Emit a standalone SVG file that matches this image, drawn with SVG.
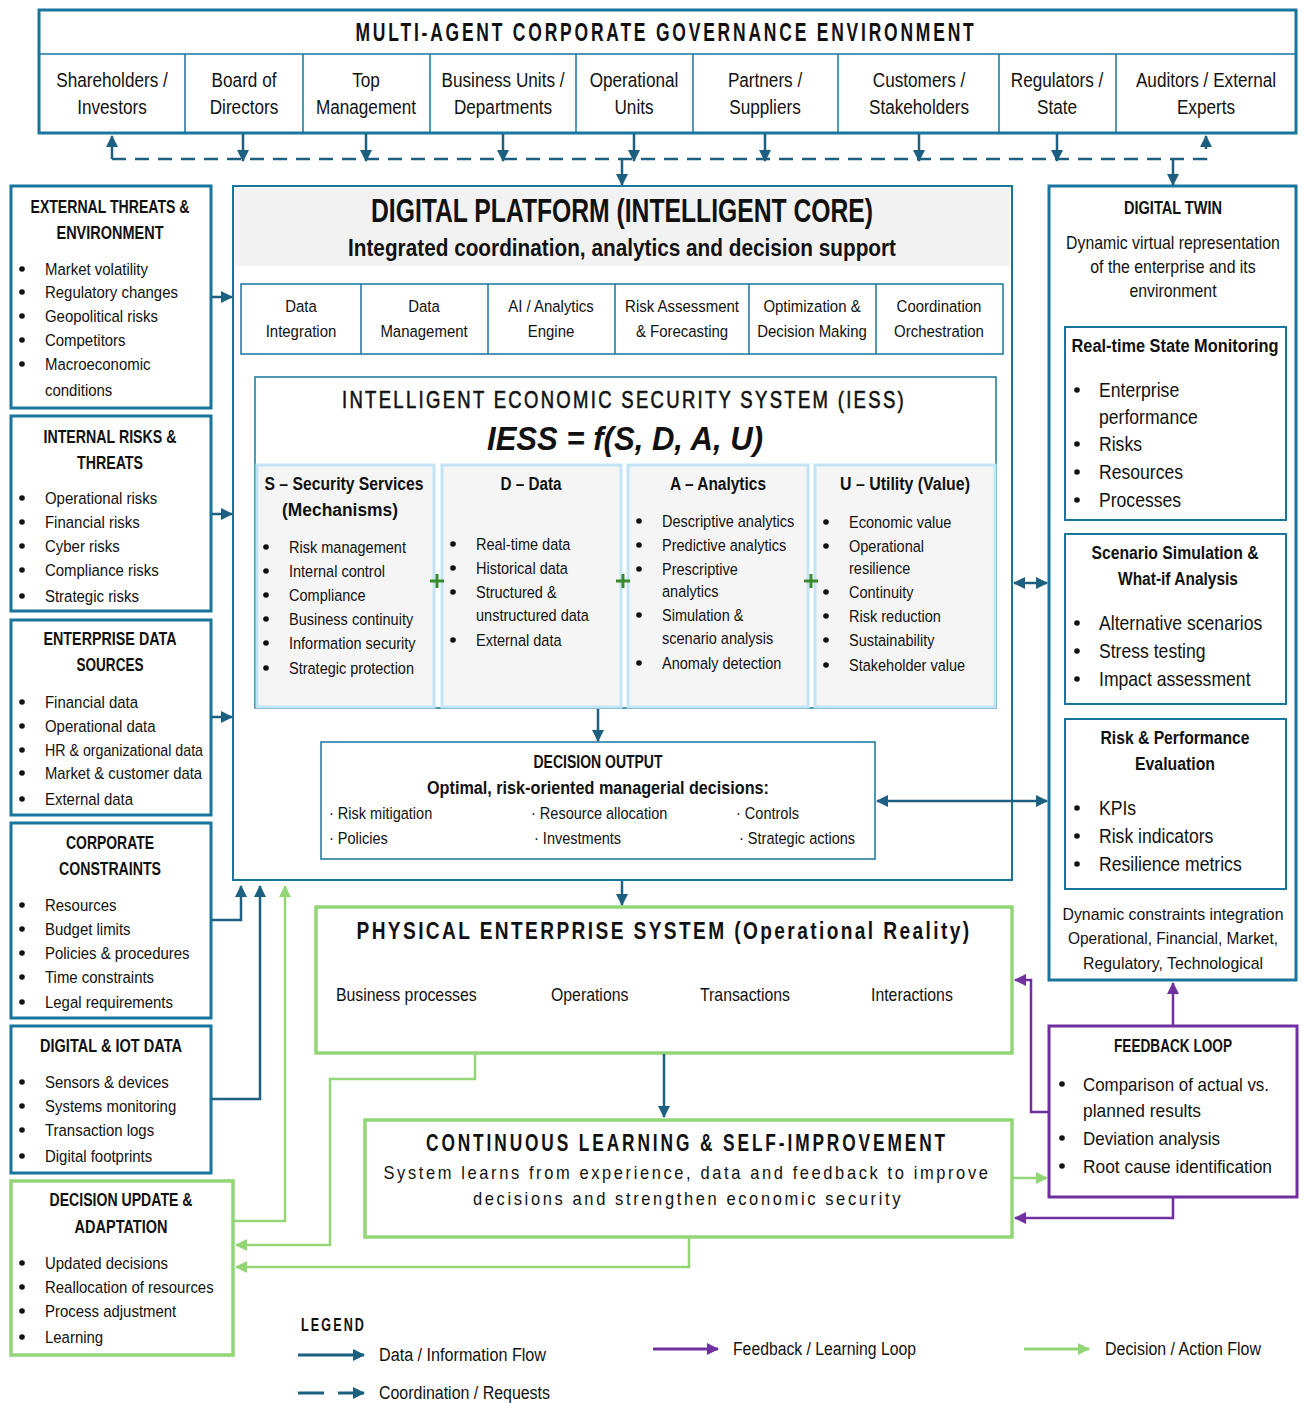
<svg xmlns="http://www.w3.org/2000/svg" width="1304" height="1403" viewBox="0 0 1304 1403">
<style>
text{font-family:"Liberation Sans",Arial,sans-serif;fill:#111;transform-box:fill-box;transform-origin:0 0;transform:scaleX(.88)}
text.c{text-anchor:middle;transform-origin:50% 0}
text.n{transform:none}
.b{font-weight:bold}
.t20{font-size:20px}
.t19{font-size:19.5px}
.t18{font-size:18px}
.t17{font-size:17px}
.t16{font-size:16.5px}
.hd{font-size:19px;font-weight:bold;text-anchor:middle}
.box{fill:#fff;stroke:#17759e;stroke-width:3}
.thin{fill:none;stroke:#17759e;stroke-width:1.5}
.gbox{fill:#fff;stroke:#93d676;stroke-width:3.5}
.pbox{fill:#fff;stroke:#7030a0;stroke-width:3}
.col{fill:#f5f5f5;stroke:#c2e5f6;stroke-width:3}
.fb{fill:none;stroke:#1c5f80;stroke-width:2.5}
.fd{fill:none;stroke:#1c5f80;stroke-width:2.5;stroke-dasharray:14 9}
.fg{fill:none;stroke:#93d676;stroke-width:2.5}
.fp{fill:none;stroke:#7030a0;stroke-width:2.5}
.dot{fill:#111}
.plus{fill:none;stroke:#3a8a2a;stroke-width:3}
</style>
<defs>
<marker id="ab" markerUnits="userSpaceOnUse" markerWidth="12" markerHeight="12" refX="11" refY="6" orient="auto-start-reverse"><path d="M0,0 L12,6 L0,12 z" fill="#1c5f80"/></marker>
<marker id="ag" markerUnits="userSpaceOnUse" markerWidth="12" markerHeight="12" refX="11" refY="6" orient="auto-start-reverse"><path d="M0,0 L12,6 L0,12 z" fill="#93d676"/></marker>
<marker id="ap" markerUnits="userSpaceOnUse" markerWidth="12" markerHeight="12" refX="11" refY="6" orient="auto-start-reverse"><path d="M0,0 L12,6 L0,12 z" fill="#7030a0"/></marker>
</defs>

<!-- Governance environment -->
<g id="governance">
<rect x="39" y="10" width="1257" height="123" class="box"/>
<line x1="39" y1="54" x2="1296" y2="54" class="thin"/>
<g class="thin">
<line x1="185" y1="54" x2="185" y2="133"/><line x1="303" y1="54" x2="303" y2="133"/><line x1="430" y1="54" x2="430" y2="133"/><line x1="576" y1="54" x2="576" y2="133"/><line x1="693" y1="54" x2="693" y2="133"/><line x1="838" y1="54" x2="838" y2="133"/><line x1="999" y1="54" x2="999" y2="133"/><line x1="1116" y1="54" x2="1116" y2="133"/>
</g>
<text x="666" y="41" class="c b n" style="font-size:25px;letter-spacing:4px" textLength="621" lengthAdjust="spacingAndGlyphs">MULTI-AGENT CORPORATE GOVERNANCE ENVIRONMENT</text>
<g>
<text x="112" y="87" class="c t19">Shareholders /</text><text x="112" y="114" class="c t19">Investors</text>
<text x="244" y="87" class="c t19">Board of</text><text x="244" y="114" class="c t19">Directors</text>
<text x="366" y="87" class="c t19">Top</text><text x="366" y="114" class="c t19">Management</text>
<text x="503" y="87" class="c t19">Business Units /</text><text x="503" y="114" class="c t19">Departments</text>
<text x="634" y="87" class="c t19">Operational</text><text x="634" y="114" class="c t19">Units</text>
<text x="765" y="87" class="c t19">Partners /</text><text x="765" y="114" class="c t19">Suppliers</text>
<text x="919" y="87" class="c t19">Customers /</text><text x="919" y="114" class="c t19">Stakeholders</text>
<text x="1057" y="87" class="c t19">Regulators /</text><text x="1057" y="114" class="c t19">State</text>
<text x="1206" y="87" class="c t19">Auditors / External</text><text x="1206" y="114" class="c t19">Experts</text>
</g>
</g>

<!-- Left column -->
<g id="external-threats">
<rect x="11" y="186" width="200" height="222" class="box"/>
<text x="110" y="213" class="hd n" textLength="159" lengthAdjust="spacingAndGlyphs">EXTERNAL THREATS &amp;</text>
<text x="110" y="239" class="hd n" textLength="107" lengthAdjust="spacingAndGlyphs">ENVIRONMENT</text>
<g class="t17"><text x="45" y="275">Market volatility</text><text x="45" y="298">Regulatory changes</text><text x="45" y="322">Geopolitical risks</text><text x="45" y="346">Competitors</text><text x="45" y="370">Macroeconomic</text><text x="45" y="396">conditions</text></g>
<g class="dot"><circle cx="22" cy="269" r="2.8"/><circle cx="22" cy="292" r="2.8"/><circle cx="22" cy="316" r="2.8"/><circle cx="22" cy="340" r="2.8"/><circle cx="22" cy="364" r="2.8"/></g>
</g>
<g id="internal-risks">
<rect x="11" y="416" width="200" height="195" class="box"/>
<text x="110" y="443" class="hd n" textLength="133" lengthAdjust="spacingAndGlyphs">INTERNAL RISKS &amp;</text>
<text x="110" y="469" class="hd n" textLength="66" lengthAdjust="spacingAndGlyphs">THREATS</text>
<g class="t17"><text x="45" y="504">Operational risks</text><text x="45" y="528">Financial risks</text><text x="45" y="552">Cyber risks</text><text x="45" y="576">Compliance risks</text><text x="45" y="602">Strategic risks</text></g>
<g class="dot"><circle cx="22" cy="498" r="2.8"/><circle cx="22" cy="522" r="2.8"/><circle cx="22" cy="546" r="2.8"/><circle cx="22" cy="570" r="2.8"/><circle cx="22" cy="596" r="2.8"/></g>
</g>
<g id="enterprise-data">
<rect x="11" y="620" width="200" height="195" class="box"/>
<text x="110" y="645" class="hd n" textLength="133" lengthAdjust="spacingAndGlyphs">ENTERPRISE DATA</text>
<text x="110" y="671" class="hd n" textLength="67" lengthAdjust="spacingAndGlyphs">SOURCES</text>
<g class="t17"><text x="45" y="708">Financial data</text><text x="45" y="732">Operational data</text><text x="45" y="756" class="n" textLength="158" lengthAdjust="spacingAndGlyphs">HR &amp; organizational data</text><text x="45" y="779" class="n" textLength="157" lengthAdjust="spacingAndGlyphs">Market &amp; customer data</text><text x="45" y="805">External data</text></g>
<g class="dot"><circle cx="22" cy="702" r="2.8"/><circle cx="22" cy="726" r="2.8"/><circle cx="22" cy="750" r="2.8"/><circle cx="22" cy="773" r="2.8"/><circle cx="22" cy="799" r="2.8"/></g>
</g>
<g id="corporate-constraints">
<rect x="11" y="823" width="200" height="195" class="box"/>
<text x="110" y="849" class="hd n" textLength="88" lengthAdjust="spacingAndGlyphs">CORPORATE</text>
<text x="110" y="875" class="hd n" textLength="102" lengthAdjust="spacingAndGlyphs">CONSTRAINTS</text>
<g class="t17"><text x="45" y="911">Resources</text><text x="45" y="935">Budget limits</text><text x="45" y="959">Policies &amp; procedures</text><text x="45" y="983">Time constraints</text><text x="45" y="1008">Legal requirements</text></g>
<g class="dot"><circle cx="22" cy="905" r="2.8"/><circle cx="22" cy="929" r="2.8"/><circle cx="22" cy="953" r="2.8"/><circle cx="22" cy="977" r="2.8"/><circle cx="22" cy="1002" r="2.8"/></g>
</g>
<g id="digital-iot">
<rect x="11" y="1026" width="200" height="147" class="box"/>
<text x="111" y="1052" class="hd n" textLength="142" lengthAdjust="spacingAndGlyphs">DIGITAL &amp; IOT DATA</text>
<g class="t17"><text x="45" y="1088">Sensors &amp; devices</text><text x="45" y="1112">Systems monitoring</text><text x="45" y="1136">Transaction logs</text><text x="45" y="1162">Digital footprints</text></g>
<g class="dot"><circle cx="22" cy="1082" r="2.8"/><circle cx="22" cy="1106" r="2.8"/><circle cx="22" cy="1130" r="2.8"/><circle cx="22" cy="1156" r="2.8"/></g>
</g>
<g id="decision-update">
<rect x="11" y="1181" width="222" height="174" class="gbox"/>
<text x="121" y="1206" class="hd n" textLength="143" lengthAdjust="spacingAndGlyphs">DECISION UPDATE &amp;</text>
<text x="121" y="1233" class="hd n" textLength="93" lengthAdjust="spacingAndGlyphs">ADAPTATION</text>
<g class="t17"><text x="45" y="1269">Updated decisions</text><text x="45" y="1293">Reallocation of resources</text><text x="45" y="1317">Process adjustment</text><text x="45" y="1343">Learning</text></g>
<g class="dot"><circle cx="22" cy="1263" r="2.8"/><circle cx="22" cy="1287" r="2.8"/><circle cx="22" cy="1311" r="2.8"/><circle cx="22" cy="1337" r="2.8"/></g>
</g>

<!-- Digital platform -->
<g id="digital-platform">
<rect x="233" y="186" width="779" height="694" fill="#fff" stroke="#17759e" stroke-width="2"/>
<rect x="235" y="188" width="775" height="78" fill="#f2f2f2"/>
<text x="622" y="222" class="c b n" style="font-size:34px" textLength="502" lengthAdjust="spacingAndGlyphs">DIGITAL PLATFORM (INTELLIGENT CORE)</text>
<text x="622" y="256" class="c b n" style="font-size:23px" textLength="548" lengthAdjust="spacingAndGlyphs">Integrated coordination, analytics and decision support</text>
<rect x="241" y="284" width="762" height="70" class="thin"/>
<g class="thin"><line x1="361" y1="284" x2="361" y2="354"/><line x1="488" y1="284" x2="488" y2="354"/><line x1="615" y1="284" x2="615" y2="354"/><line x1="749" y1="284" x2="749" y2="354"/><line x1="876" y1="284" x2="876" y2="354"/></g>
<g>
<text x="301" y="312" class="c t17">Data</text><text x="301" y="337" class="c t17">Integration</text>
<text x="424" y="312" class="c t17">Data</text><text x="424" y="337" class="c t17">Management</text>
<text x="551" y="312" class="c t17">AI / Analytics</text><text x="551" y="337" class="c t17">Engine</text>
<text x="682" y="312" class="c t17">Risk Assessment</text><text x="682" y="337" class="c t17">&amp; Forecasting</text>
<text x="812" y="312" class="c t17">Optimization &amp;</text><text x="812" y="337" class="c t17">Decision Making</text>
<text x="939" y="312" class="c t17">Coordination</text><text x="939" y="337" class="c t17">Orchestration</text>
</g>
</g>

<g id="iess">
<rect x="255" y="377" width="741" height="331" fill="#fff" stroke="#17759e" stroke-width="1.5"/>
<text x="624" y="408" class="c n" style="font-size:24px;letter-spacing:3px;stroke:#111;stroke-width:.6" textLength="564" lengthAdjust="spacingAndGlyphs">INTELLIGENT ECONOMIC SECURITY SYSTEM (IESS)</text>
<text x="625" y="450" class="c b n" style="font-size:33px;font-style:italic" textLength="276" lengthAdjust="spacingAndGlyphs">IESS = f(S, D, A, U)</text>
<rect x="257" y="465" width="177" height="242" class="col"/>
<rect x="442" y="465" width="179" height="242" class="col"/>
<rect x="628" y="465" width="180" height="242" class="col"/>
<rect x="815" y="465" width="180" height="242" class="col"/>
<g class="b" style="font-size:18px">
<text x="344" y="490" class="c n" textLength="159" lengthAdjust="spacingAndGlyphs">S – Security Services</text>
<text x="340" y="516" class="c n" textLength="116" lengthAdjust="spacingAndGlyphs">(Mechanisms)</text>
<text x="531" y="490" class="c n" textLength="61" lengthAdjust="spacingAndGlyphs">D – Data</text>
<text x="718" y="490" class="c n" textLength="96" lengthAdjust="spacingAndGlyphs">A – Analytics</text>
<text x="905" y="490" class="c n" textLength="130" lengthAdjust="spacingAndGlyphs">U – Utility (Value)</text>
</g>
<g class="t16">
<text x="289" y="553">Risk management</text><text x="289" y="577">Internal control</text><text x="289" y="601">Compliance</text><text x="289" y="625">Business continuity</text><text x="289" y="649">Information security</text><text x="289" y="674">Strategic protection</text>
<text x="476" y="550">Real-time data</text><text x="476" y="574">Historical data</text><text x="476" y="598">Structured &amp;</text><text x="476" y="621">unstructured data</text><text x="476" y="646">External data</text>
<text x="662" y="527">Descriptive analytics</text><text x="662" y="551">Predictive analytics</text><text x="662" y="575">Prescriptive</text><text x="662" y="597">analytics</text><text x="662" y="621">Simulation &amp;</text><text x="662" y="644">scenario analysis</text><text x="662" y="669">Anomaly detection</text>
<text x="849" y="528">Economic value</text><text x="849" y="552">Operational</text><text x="849" y="574">resilience</text><text x="849" y="598">Continuity</text><text x="849" y="622">Risk reduction</text><text x="849" y="646">Sustainability</text><text x="849" y="671">Stakeholder value</text>
</g>
<g class="dot">
<circle cx="266" cy="547" r="2.8"/><circle cx="266" cy="571" r="2.8"/><circle cx="266" cy="595" r="2.8"/><circle cx="266" cy="619" r="2.8"/><circle cx="266" cy="643" r="2.8"/><circle cx="266" cy="668" r="2.8"/>
<circle cx="453" cy="544" r="2.8"/><circle cx="453" cy="568" r="2.8"/><circle cx="453" cy="592" r="2.8"/><circle cx="453" cy="640" r="2.8"/>
<circle cx="639" cy="521" r="2.8"/><circle cx="639" cy="545" r="2.8"/><circle cx="639" cy="569" r="2.8"/><circle cx="639" cy="615" r="2.8"/><circle cx="639" cy="663" r="2.8"/>
<circle cx="826" cy="522" r="2.8"/><circle cx="826" cy="546" r="2.8"/><circle cx="826" cy="592" r="2.8"/><circle cx="826" cy="616" r="2.8"/><circle cx="826" cy="640" r="2.8"/><circle cx="826" cy="665" r="2.8"/>
</g>
<g class="plus">
<path d="M430,581 H444 M437,574 V588"/><path d="M616,581 H630 M623,574 V588"/><path d="M804,581 H818 M811,574 V588"/>
</g>
</g>

<g id="decision-output">
<rect x="321" y="742" width="554" height="117" fill="#fff" stroke="#17759e" stroke-width="1.5"/>
<text x="598" y="768" class="c b n" style="font-size:18px" textLength="129" lengthAdjust="spacingAndGlyphs">DECISION OUTPUT</text>
<text x="598" y="794" class="c b n" style="font-size:18px" textLength="342" lengthAdjust="spacingAndGlyphs">Optimal, risk-oriented managerial decisions:</text>
<g class="t16">
<text x="329" y="819">· Risk mitigation</text><text x="531" y="819">· Resource allocation</text><text x="736" y="819">· Controls</text>
<text x="329" y="844">· Policies</text><text x="534" y="844">· Investments</text><text x="739" y="844">· Strategic actions</text>
</g>
</g>

<!-- Digital twin -->
<g id="digital-twin">
<rect x="1049" y="186" width="247" height="794" class="box"/>
<text x="1173" y="214" class="c b n" style="font-size:18px" textLength="98" lengthAdjust="spacingAndGlyphs">DIGITAL TWIN</text>
<g><text x="1173" y="249" class="c t18">Dynamic virtual representation</text><text x="1173" y="273" class="c t18">of the enterprise and its</text><text x="1173" y="297" class="c t18">environment</text></g>
<rect x="1065" y="327" width="221" height="193" fill="#fff" stroke="#17759e" stroke-width="2"/>
<text x="1175" y="352" class="c b n" style="font-size:18px" textLength="207" lengthAdjust="spacingAndGlyphs">Real-time State Monitoring</text>
<g class="t20"><text x="1099" y="397">Enterprise</text><text x="1099" y="424">performance</text><text x="1099" y="451">Risks</text><text x="1099" y="479">Resources</text><text x="1099" y="507">Processes</text></g>
<g class="dot"><circle cx="1077" cy="390" r="2.8"/><circle cx="1077" cy="444" r="2.8"/><circle cx="1077" cy="472" r="2.8"/><circle cx="1077" cy="500" r="2.8"/></g>
<rect x="1065" y="534" width="221" height="170" fill="#fff" stroke="#17759e" stroke-width="2"/>
<text x="1175" y="559" class="c b n" style="font-size:18px" textLength="167" lengthAdjust="spacingAndGlyphs">Scenario Simulation &amp;</text>
<text x="1178" y="585" class="c b n" style="font-size:18px" textLength="120" lengthAdjust="spacingAndGlyphs">What-if Analysis</text>
<g class="t20"><text x="1099" y="630">Alternative scenarios</text><text x="1099" y="658">Stress testing</text><text x="1099" y="686">Impact assessment</text></g>
<g class="dot"><circle cx="1077" cy="623" r="2.8"/><circle cx="1077" cy="651" r="2.8"/><circle cx="1077" cy="679" r="2.8"/></g>
<rect x="1065" y="719" width="221" height="170" fill="#fff" stroke="#17759e" stroke-width="2"/>
<text x="1175" y="744" class="c b n" style="font-size:18px" textLength="149" lengthAdjust="spacingAndGlyphs">Risk &amp; Performance</text>
<text x="1175" y="770" class="c b n" style="font-size:18px" textLength="80" lengthAdjust="spacingAndGlyphs">Evaluation</text>
<g class="t20"><text x="1099" y="815">KPIs</text><text x="1099" y="843">Risk indicators</text><text x="1099" y="871">Resilience metrics</text></g>
<g class="dot"><circle cx="1077" cy="808" r="2.8"/><circle cx="1077" cy="836" r="2.8"/><circle cx="1077" cy="864" r="2.8"/></g>
<g style="font-size:17px">
<text x="1173" y="920" class="c n" textLength="221" lengthAdjust="spacingAndGlyphs">Dynamic constraints integration</text>
<text x="1173" y="944" class="c n" textLength="210" lengthAdjust="spacingAndGlyphs">Operational, Financial, Market,</text>
<text x="1173" y="969" class="c n" textLength="180" lengthAdjust="spacingAndGlyphs">Regulatory, Technological</text>
</g>
</g>

<!-- Physical enterprise -->
<g id="physical-enterprise">
<rect x="316" y="907" width="696" height="146" class="gbox"/>
<text x="664" y="939" class="c b n" style="font-size:24px;letter-spacing:3px" textLength="615" lengthAdjust="spacingAndGlyphs">PHYSICAL ENTERPRISE SYSTEM (Operational Reality)</text>
<g class="t18"><text x="336" y="1001">Business processes</text><text x="551" y="1001">Operations</text><text x="700" y="1001">Transactions</text><text x="871" y="1001">Interactions</text></g>
</g>

<g id="continuous-learning">
<rect x="365" y="1120" width="647" height="117" class="gbox"/>
<text x="687" y="1151" class="c b n" style="font-size:24px;letter-spacing:4px" textLength="522" lengthAdjust="spacingAndGlyphs">CONTINUOUS LEARNING &amp; SELF-IMPROVEMENT</text>
<text x="687" y="1179" class="c n" style="font-size:19px;letter-spacing:3px" textLength="607" lengthAdjust="spacingAndGlyphs">System learns from experience, data and feedback to improve</text>
<text x="688" y="1205" class="c n" style="font-size:19px;letter-spacing:3px" textLength="430" lengthAdjust="spacingAndGlyphs">decisions and strengthen economic security</text>
</g>

<g id="feedback-loop">
<rect x="1049" y="1026" width="248" height="171" class="pbox"/>
<text x="1173" y="1052" class="c b n" style="font-size:18px" textLength="118" lengthAdjust="spacingAndGlyphs">FEEDBACK LOOP</text>
<g style="font-size:18.5px">
<text x="1083" y="1091" class="n" textLength="186" lengthAdjust="spacingAndGlyphs">Comparison of actual vs.</text>
<text x="1083" y="1117" class="n" textLength="118" lengthAdjust="spacingAndGlyphs">planned results</text>
<text x="1083" y="1145" class="n" textLength="137" lengthAdjust="spacingAndGlyphs">Deviation analysis</text>
<text x="1083" y="1173" class="n" textLength="189" lengthAdjust="spacingAndGlyphs">Root cause identification</text>
</g>
<g class="dot"><circle cx="1062" cy="1084" r="2.8"/><circle cx="1062" cy="1138" r="2.8"/><circle cx="1062" cy="1166" r="2.8"/></g>
</g>

<!-- Connectors -->
<g id="connectors">
<path d="M112,159 H1206 V136" class="fd" marker-end="url(#ab)"/>
<path d="M112,159 V136" class="fb" marker-end="url(#ab)"/>
<path d="M243,134 V161" class="fb" marker-end="url(#ab)"/>
<path d="M366,134 V161" class="fb" marker-end="url(#ab)"/>
<path d="M503,134 V161" class="fb" marker-end="url(#ab)"/>
<path d="M634,134 V161" class="fb" marker-end="url(#ab)"/>
<path d="M765,134 V161" class="fb" marker-end="url(#ab)"/>
<path d="M919,134 V161" class="fb" marker-end="url(#ab)"/>
<path d="M1057,134 V161" class="fb" marker-end="url(#ab)"/>
<path d="M622,160 V185" class="fb" marker-end="url(#ab)"/>
<path d="M1173,160 V185" class="fb" marker-end="url(#ab)"/>
<path d="M212,297 H232" class="fb" marker-end="url(#ab)"/>
<path d="M212,514 H232" class="fb" marker-end="url(#ab)"/>
<path d="M212,717 H232" class="fb" marker-end="url(#ab)"/>
<path d="M212,920 H241 V886" class="fb" marker-end="url(#ab)"/>
<path d="M212,1099 H260 V886" class="fb" marker-end="url(#ab)"/>
<path d="M234,1221 H285 V886" class="fg" marker-end="url(#ag)"/>
<path d="M475,1054 V1079 H330 V1245 H236" class="fg" marker-end="url(#ag)"/>
<path d="M689,1238 V1267 H236" class="fg" marker-end="url(#ag)"/>
<path d="M598,709 V741" class="fb" marker-end="url(#ab)"/>
<path d="M877,801 H1047" class="fb" marker-start="url(#ab)" marker-end="url(#ab)"/>
<path d="M1014,583 H1047" class="fb" marker-start="url(#ab)" marker-end="url(#ab)"/>
<path d="M622,881 V905" class="fb" marker-end="url(#ab)"/>
<path d="M664,1054 V1117" class="fb" marker-end="url(#ab)"/>
<path d="M1013,1178 H1047" class="fg" marker-end="url(#ag)"/>
<path d="M1173,1198 V1218 H1015" class="fp" marker-end="url(#ap)"/>
<path d="M1048,1112 H1031 V980 H1015" class="fp" marker-end="url(#ap)"/>
<path d="M1173,1025 V983" class="fp" marker-end="url(#ap)"/>
</g>

<!-- Legend -->
<g id="legend">
<text x="301" y="1331" class="b n" style="font-size:18px;letter-spacing:3px" textLength="65" lengthAdjust="spacingAndGlyphs">LEGEND</text>
<path d="M298,1355 H364" class="fb" style="stroke-width:3" marker-end="url(#ab)"/>
<text x="379" y="1361" class="n" style="font-size:18px" textLength="167" lengthAdjust="spacingAndGlyphs">Data / Information Flow</text>
<path d="M298,1393 H364" class="fd" style="stroke-width:3;stroke-dasharray:26 14" marker-end="url(#ab)"/>
<text x="379" y="1399" class="n" style="font-size:18px" textLength="171" lengthAdjust="spacingAndGlyphs">Coordination / Requests</text>
<path d="M653,1349 H718" class="fp" style="stroke-width:3" marker-end="url(#ap)"/>
<text x="733" y="1355" class="n" style="font-size:18px" textLength="183" lengthAdjust="spacingAndGlyphs">Feedback / Learning Loop</text>
<path d="M1024,1349 H1089" class="fg" style="stroke-width:3" marker-end="url(#ag)"/>
<text x="1105" y="1355" class="n" style="font-size:18px" textLength="156" lengthAdjust="spacingAndGlyphs">Decision / Action Flow</text>
</g>
</svg>
